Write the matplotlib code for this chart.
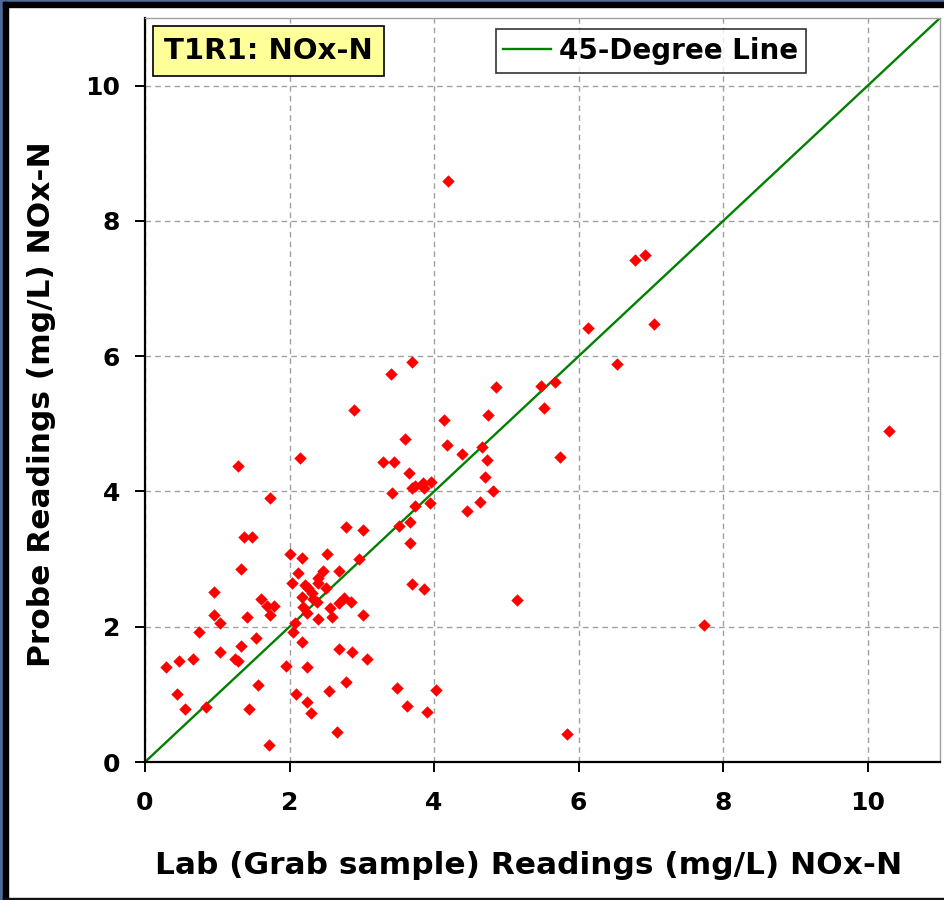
import matplotlib
matplotlib.use('Agg')
import matplotlib.pyplot as plt
from matplotlib.patches import Rectangle

# Lab (grab sample) vs probe readings, mg/L NOx-N
lab = [1.28, 2.14, 1.73, 1.37, 1.48, 1.33, 2.01, 2.17, 2.52, 2.12, 2.46, 2.04,
       0.95, 1.61, 1.69, 1.78, 0.95, 1.04, 1.41, 1.73, 0.75, 1.53, 1.33, 2.05,
       2.17, 1.04, 1.24, 1.28, 0.29, 0.47, 0.66, 1.95, 2.24, 1.57, 0.44, 2.09,
       2.54, 0.56, 0.85, 1.44, 2.24, 2.30, 1.71,
       3.70, 3.41, 4.85, 2.89, 4.14, 4.75, 3.60, 4.18, 4.38, 4.66, 4.73, 4.71,
       4.81, 4.64, 4.45, 3.29, 3.44, 3.65, 3.70, 3.73, 3.84, 3.86, 3.96, 3.42,
       3.74, 3.94, 3.67, 3.51, 2.78, 3.01, 3.67, 2.96, 2.68, 2.21, 2.26, 2.39,
       2.39, 2.51, 2.31, 2.17, 2.33, 2.38, 2.75, 2.85, 2.68, 2.19, 2.56, 2.59,
       2.24, 2.40, 3.02, 2.07, 3.70, 3.86, 5.15,
       2.68, 2.87, 3.07, 2.78, 3.48, 4.02, 3.63, 3.90, 2.66, 5.84,
       4.19, 6.78, 6.92, 6.13, 7.04, 6.53, 5.48, 5.67, 5.52, 5.74, 10.29, 7.73]
probe = [4.37, 4.49, 3.90, 3.32, 3.32, 2.85, 3.08, 3.02, 3.08, 2.80, 2.83, 2.65,
         2.52, 2.41, 2.31, 2.31, 2.18, 2.06, 2.15, 2.18, 1.92, 1.83, 1.72, 1.92,
         1.78, 1.63, 1.52, 1.50, 1.41, 1.50, 1.53, 1.42, 1.41, 1.14, 1.00, 1.00,
         1.05, 0.79, 0.81, 0.79, 0.88, 0.72, 0.25,
         5.91, 5.73, 5.54, 5.21, 5.06, 5.13, 4.78, 4.69, 4.56, 4.65, 4.47, 4.22,
         4.00, 3.85, 3.71, 4.43, 4.43, 4.27, 4.05, 4.08, 4.13, 4.05, 4.14, 3.98,
         3.78, 3.83, 3.55, 3.49, 3.48, 3.43, 3.24, 3.00, 2.83, 2.62, 2.57, 2.72,
         2.64, 2.57, 2.50, 2.44, 2.41, 2.37, 2.42, 2.37, 2.35, 2.29, 2.27, 2.14,
         2.20, 2.11, 2.18, 2.05, 2.63, 2.56, 2.40,
         1.67, 1.63, 1.53, 1.18, 1.09, 1.07, 0.83, 0.74, 0.44, 0.42,
         8.59, 7.42, 7.49, 6.42, 6.47, 5.88, 5.56, 5.62, 5.23, 4.51, 4.90, 2.02]

line_x = [0, 11]
line_y = [0, 11]
ticks = [0, 2, 4, 6, 8, 10]

plt.rcParams['font.family'] = ['DejaVu Sans']
plt.rcParams['font.weight'] = 'bold'

fig = plt.figure(figsize=(9.45, 9.0), dpi=100)
fig.patch.set_facecolor('white')

# window-like frame on the left/top/bottom edges
fig.patches.append(Rectangle((0, 0), 3/945, 1, transform=fig.transFigure, color='#4f6a98', zorder=0))
fig.patches.append(Rectangle((0, 898/900), 1, 2/900, transform=fig.transFigure, color='#4f6a98', zorder=0))
fig.patches.append(Rectangle((3/945, 0), 5/945, 898/900, transform=fig.transFigure, color='black', zorder=1))
fig.patches.append(Rectangle((3/945, 893/900), 942/945, 5/900, transform=fig.transFigure, color='black', zorder=1))
fig.patches.append(Rectangle((3/945, 0), 942/945, 2/900, transform=fig.transFigure, color='#111111', zorder=1))

ax = fig.add_axes([145/945, 138/900, 795/945, 744/900])
ax.plot(line_x, line_y, color='#008000', lw=1.7, label='45-Degree Line', zorder=2)
ax.scatter(lab, probe, marker='D', s=40, color='#ff0000', linewidths=0, zorder=3)

ax.set_xlim(0, 11)
ax.set_ylim(0, 11)
ax.set_xticks(ticks)
ax.set_yticks(ticks)
ax.grid(True, color='#a0a0a0', linestyle=(0, (4, 3)), linewidth=1.0)
ax.set_axisbelow(True)

for s in ['left', 'bottom']:
    ax.spines[s].set_color('black')
    ax.spines[s].set_linewidth(1.6)
for s in ['top', 'right']:
    ax.spines[s].set_color('#a0a0a0')
    ax.spines[s].set_linewidth(1.0)

ax.tick_params(axis='x', length=7, width=1.4, pad=14, labelsize=18)
ax.tick_params(axis='y', length=7, width=1.4, pad=11, labelsize=18)

ax.set_xlabel('Lab (Grab sample) Readings (mg/L) NOx-N', fontsize=22.5, fontweight='bold')
ax.set_ylabel('Probe Readings (mg/L) NOx-N', fontsize=22.5, fontweight='bold')
ax.xaxis.set_label_coords(0.482, -0.119)
ax.yaxis.set_label_coords(-0.112, 0.481)

ax.text(0.155, 0.956, 'T1R1: NOx-N', transform=ax.transAxes, ha='center', va='center',
        fontsize=21, fontweight='bold',
        bbox=dict(boxstyle='square,pad=0.38', facecolor='#ffff99', edgecolor='black', linewidth=1.2))

leg = ax.legend(loc='upper center', bbox_to_anchor=(0.636, 0.985),
                frameon=True, fancybox=False, handlelength=1.7, handletextpad=0.3,
                borderpad=0.28, borderaxespad=0.0, prop={'weight': 'bold', 'size': 20})
leg.get_frame().set_edgecolor('black')
leg.get_frame().set_linewidth(1.2)

fig.savefig('out.png', dpi=100)
